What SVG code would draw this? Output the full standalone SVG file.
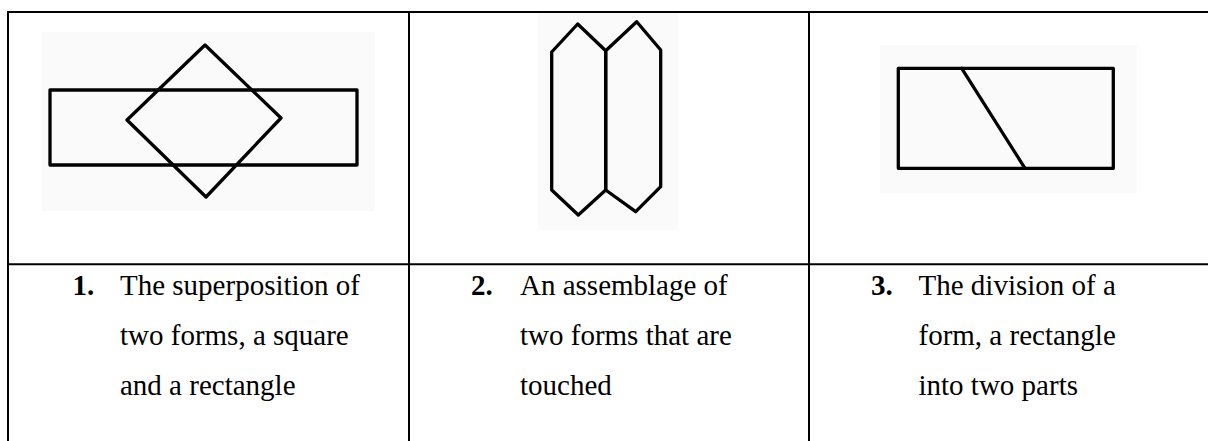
<svg xmlns="http://www.w3.org/2000/svg" width="1208" height="441" viewBox="0 0 1208 441">
  <style>
    .grid { stroke: #000; stroke-width: 2; fill: none; }
    .fig { stroke: #000; stroke-width: 3.3; fill: none; stroke-linejoin: round; stroke-linecap: round; }
    .scan { fill: #fafafb; }
    .txt { font-family: "Liberation Serif", "Times New Roman", serif; font-size: 29px; fill: #000; }
    .num { font-weight: bold; }
  </style>
  <rect width="1208" height="441" fill="#fff"/>
  <g id="table">
    <line class="grid" x1="7" y1="12" x2="1208" y2="12"/>
    <line class="grid" x1="8" y1="11" x2="8" y2="441"/>
    <line class="grid" x1="409" y1="11" x2="409" y2="441"/>
    <line class="grid" x1="809" y1="11" x2="809" y2="441"/>
    <line class="grid" x1="7" y1="264.3" x2="1208" y2="264.3"/>
  </g>
  <g id="figure1">
    <rect class="scan" x="42" y="32" width="333" height="179"/>
    <rect class="fig" x="50" y="90" width="307" height="75"/>
    <polygon class="fig" points="205,45 281,118 206,197 127,120"/>
  </g>
  <g id="figure2">
    <rect class="scan" x="538" y="13" width="140" height="217"/>
    <polygon class="fig" points="577.7,24 551.7,52 551.7,190 578.3,215 605.7,190 605.7,50.7"/>
    <polygon class="fig" points="605.7,50.7 636.7,21.7 660.7,50 660.7,186.7 635.7,211.7 605.7,190"/>
  </g>
  <g id="figure3">
    <rect class="scan" x="880" y="45" width="257" height="148"/>
    <rect class="fig" x="898.3" y="68.3" width="215" height="100"/>
    <line class="fig" x1="961.7" y1="68.3" x2="1025" y2="168.3"/>
  </g>
  <g id="caption1" class="txt">
    <text x="72.5" y="295" class="num">1.</text>
    <text x="120" y="295">The superposition of</text>
    <text x="120" y="345">two forms, a square</text>
    <text x="120" y="395">and a rectangle</text>
  </g>
  <g id="caption2" class="txt">
    <text x="471" y="295" class="num">2.</text>
    <text x="520" y="295">An assemblage of</text>
    <text x="520" y="345">two forms that are</text>
    <text x="520" y="395">touched</text>
  </g>
  <g id="caption3" class="txt">
    <text x="871" y="295" class="num">3.</text>
    <text x="918.5" y="295">The division of a</text>
    <text x="918.5" y="345">form, a rectangle</text>
    <text x="918.5" y="395">into two parts</text>
  </g>
</svg>
